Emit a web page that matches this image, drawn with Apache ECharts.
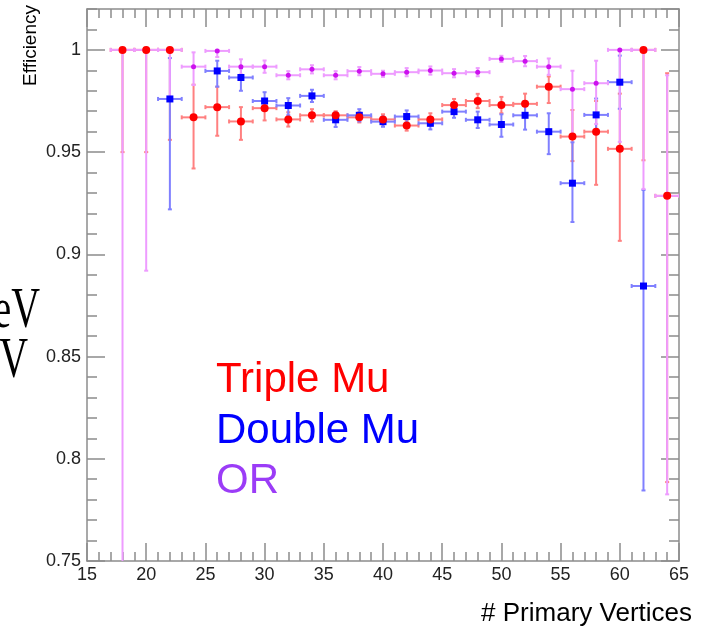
<!DOCTYPE html>
<html>
<head>
<meta charset="utf-8">
<script src="https://cdn.jsdelivr.net/npm/echarts@6/dist/echarts.min.js"></script>
<style>
  html, body { margin: 0; padding: 0; background: #fff; }
  #chart { width: 704px; height: 628px; }
</style>
</head>
<body>
<div id="chart"></div>
<script>
// Number of primary vertices (bin centres); each bin is 2 wide
const vertices = [18, 20, 22, 24, 26, 28, 30, 32, 34, 36, 38, 40, 42, 44, 46, 48, 50, 52, 54, 56, 58, 60, 62, 64];
const binHalfWidth = 1;

// Triple Mu efficiency and asymmetric errors
const tripleEff  = [1.000, 1.000, 1.000, 0.967, 0.972, 0.965, 0.9715, 0.966, 0.968, 0.968, 0.967, 0.966, 0.963, 0.966, 0.973, 0.975, 0.973, 0.9736, 0.982, 0.9576, 0.960, 0.9516, 1.000, 0.9286];
const tripleUp   = [0, 0, 0, 0.016, 0.010, 0.007, 0.004, 0.0035, 0.003, 0.002, 0.0025, 0.0025, 0.0025, 0.003, 0.003, 0.0035, 0.004, 0.005, 0.005, 0.013, 0.015, 0.027, 0, 0.06];
const tripleDown = [0.05, 0.05, 0.044, 0.025, 0.014, 0.009, 0.006, 0.0035, 0.003, 0.003, 0.0025, 0.0025, 0.0025, 0.003, 0.003, 0.0035, 0.004, 0.005, 0.008, 0.012, 0.026, 0.045, 0.054, 0.14];

// Double Mu efficiency and asymmetric errors
const doubleEff  = [null, null, 0.976, null, 0.9897, 0.9865, 0.975, 0.9728, 0.9775, 0.9658, 0.968, 0.9649, 0.9674, 0.9641, 0.9698, 0.9658, 0.9635, 0.968, 0.960, 0.9348, 0.9682, 0.9842, 0.8845, null];
const doubleUp   = [0, 0, 0.020, 0, 0.005, 0.0045, 0.0043, 0.0036, 0.003, 0.0035, 0.003, 0.0025, 0.003, 0.003, 0.003, 0.004, 0.005, 0.005, 0.009, 0.020, 0.008, 0.013, 0.047, 0];
const doubleDown = [0, 0, 0.054, 0, 0.0077, 0.0065, 0.0044, 0.0048, 0.003, 0.0035, 0.003, 0.0025, 0.003, 0.003, 0.003, 0.004, 0.006, 0.007, 0.011, 0.019, 0.008, 0.013, 0.10, 0];

// OR efficiency and asymmetric errors
const orEff  = [1.000, 1.000, 1.000, 0.9918, 0.9995, 0.9918, 0.9918, 0.9876, 0.9905, 0.9876, 0.9896, 0.9883, 0.9891, 0.9899, 0.9886, 0.9891, 0.9956, 0.9945, 0.9918, 0.9808, 0.9837, 1.000, 1.000, 0.9286];
const orUp   = [0, 0, 0, 0.007, 0.0005, 0.0036, 0.003, 0.002, 0.002, 0.002, 0.002, 0.0015, 0.002, 0.002, 0.002, 0.002, 0.0015, 0.0025, 0.004, 0.009, 0.011, 0, 0, 0.059];
const orDown = [0.28, 0.108, 0.024, 0.009, 0.003, 0.0038, 0.003, 0.002, 0.002, 0.002, 0.002, 0.0015, 0.002, 0.002, 0.002, 0.002, 0.0015, 0.0025, 0.004, 0.022, 0.02, 0.045, 0.068, 0.146];

// Axis ranges and tick labels
const xRange = [15, 65];
const yRange = [0.75, 1.02];
const yTickLabels = ['0.75', '0.8', '0.85', '0.9', '0.95', '1'];

const chart = echarts.init(document.getElementById('chart'), null, { renderer: 'canvas' });

function rows(eff, up, down) {
  const out = [];
  vertices.forEach((x, i) => {
    if (eff[i] == null) return;
    out.push([x, eff[i], eff[i] + up[i], eff[i] - down[i]]);
  });
  return out;
}

// Error crosses: horizontal bar spans the bin, vertical bar spans the asymmetric error
function errorSeries(name, eff, up, down, color, z) {
  return {
    name: name,
    type: 'custom',
    xAxisIndex: 0,
    yAxisIndex: 0,
    clip: true,
    silent: true,
    z: z,
    encode: { x: 0, y: 1 },
    data: rows(eff, up, down),
    renderItem: function (params, api) {
      const x = api.value(0), y = api.value(1), hi = api.value(2), lo = api.value(3);
      const pHi = api.coord([x, hi]);
      const pLo = api.coord([x, lo]);
      const pL = api.coord([x - binHalfWidth, y]);
      const pR = api.coord([x + binHalfWidth, y]);
      const cap = 2;
      const style = { stroke: color, lineWidth: 2 };
      const children = [
        { type: 'line', shape: { x1: pL[0], y1: pL[1], x2: pR[0], y2: pR[1] }, style: style },
        { type: 'line', shape: { x1: pL[0], y1: pL[1] - cap, x2: pL[0], y2: pL[1] + cap }, style: style },
        { type: 'line', shape: { x1: pR[0], y1: pR[1] - cap, x2: pR[0], y2: pR[1] + cap }, style: style }
      ];
      if (hi > y) {
        children.push({ type: 'line', shape: { x1: pHi[0], y1: pHi[1], x2: pHi[0], y2: pL[1] }, style: style });
        children.push({ type: 'line', shape: { x1: pHi[0] - cap, y1: pHi[1], x2: pHi[0] + cap, y2: pHi[1] }, style: style });
      }
      if (lo < y) {
        children.push({ type: 'line', shape: { x1: pLo[0], y1: pL[1], x2: pLo[0], y2: pLo[1] }, style: style });
        children.push({ type: 'line', shape: { x1: pLo[0] - cap, y1: pLo[1], x2: pLo[0] + cap, y2: pLo[1] }, style: style });
      }
      return { type: 'group', children: children };
    }
  };
}

function markerSeries(name, eff, symbol, size, color, z) {
  const data = [];
  vertices.forEach((x, i) => { if (eff[i] != null) data.push([x, eff[i]]); });
  return {
    name: name,
    type: 'scatter',
    xAxisIndex: 0,
    yAxisIndex: 0,
    symbol: symbol,
    symbolSize: size,
    itemStyle: { color: color, opacity: 1 },
    z: z,
    silent: true,
    data: data
  };
}

const axisColor = '#8c8c8c';
const labelFont = { fontFamily: 'Liberation Sans', fontSize: 18, color: '#222' };

function xAxisDef(position, withLabels) {
  return {
    type: 'value', position: position, min: xRange[0], max: xRange[1], interval: 5,
    axisLine: { show: true, onZero: false, lineStyle: { color: axisColor, width: 1.5 } },
    axisTick: { show: true, inside: true, length: 18, lineStyle: { color: axisColor, width: 1.5 } },
    minorTick: { show: true, splitNumber: 5, length: 9, lineStyle: { color: axisColor, width: 1.5 } },
    axisLabel: withLabels ? Object.assign({ show: true, margin: 5 }, labelFont) : { show: false },
    splitLine: { show: false }, minorSplitLine: { show: false }
  };
}

function yMajorDef(position, withLabels) {
  return {
    type: 'value', position: position, min: yRange[0], max: yRange[1], interval: 0.05,
    axisLine: { show: true, onZero: false, lineStyle: { color: axisColor, width: 1.5 } },
    axisTick: { show: true, inside: true, length: 18, lineStyle: { color: axisColor, width: 1.5 } },
    axisLabel: withLabels ? Object.assign({
      show: true, margin: 6, showMaxLabel: false,
      formatter: function (v) {
        const k = Math.round((v - yRange[0]) / 0.05);
        return yTickLabels[k] !== undefined ? yTickLabels[k] : '';
      }
    }, labelFont) : { show: false },
    splitLine: { show: false }
  };
}

function yMinorDef(position) {
  return {
    type: 'value', position: position, min: yRange[0], max: yRange[1], interval: 0.01,
    axisLine: { show: false },
    axisTick: { show: true, inside: true, length: 10, lineStyle: { color: axisColor, width: 1.5 } },
    axisLabel: { show: false },
    splitLine: { show: false }
  };
}

const option = {
  backgroundColor: '#ffffff',
  animation: false,
  grid: { left: 87, right: 25, top: 9, bottom: 67, containLabel: false },
  xAxis: [xAxisDef('bottom', true), xAxisDef('top', false)],
  yAxis: [yMajorDef('left', true), yMinorDef('left'), yMajorDef('right', false), yMinorDef('right')],
  series: [
    errorSeries('Triple Mu errors', tripleEff, tripleUp, tripleDown, '#ff8080', 2),
    errorSeries('Double Mu errors', doubleEff, doubleUp, doubleDown, '#8080ff', 3),
    errorSeries('OR errors', orEff, orUp, orDown, '#ee9cff', 4),
    markerSeries('OR', orEff, 'circle', 5, '#cc11ee', 5),
    markerSeries('Double Mu', doubleEff, 'rect', 7, '#0000ff', 6),
    markerSeries('Triple Mu', tripleEff, 'circle', 8, '#ff0000', 7)
  ],
  graphic: [
    { type: 'text', x: 31, y: 5, rotation: Math.PI / 2, z: 10,
      style: { text: 'Efficiency', font: '19px "Liberation Sans"', fill: '#000', align: 'right', verticalAlign: 'middle' } },
    { type: 'text', x: 692, y: 614, z: 10,
      style: { text: '# Primary Vertices', font: '26px "Liberation Sans"', fill: '#000', align: 'right', verticalAlign: 'middle' } },
    { type: 'text', x: 216, y: 380, z: 10,
      style: { text: 'Triple Mu', font: '42px "Liberation Sans"', fill: '#ff0000', align: 'left', verticalAlign: 'middle' } },
    { type: 'text', x: 216, y: 431, z: 10,
      style: { text: 'Double Mu', font: '42px "Liberation Sans"', fill: '#0000ff', align: 'left', verticalAlign: 'middle' } },
    { type: 'text', x: 216, y: 481, z: 10,
      style: { text: 'OR', font: '42px "Liberation Sans"', fill: '#9b3cf7', align: 'left', verticalAlign: 'middle' } },
    { type: 'text', x: 40, y: 312, scaleX: 0.7, z: 10,
      style: { text: 'eV', font: '57px "Liberation Serif"', fill: '#000', align: 'right', verticalAlign: 'middle' } },
    { type: 'text', x: 28, y: 362, scaleX: 0.7, z: 10,
      style: { text: 'V', font: '57px "Liberation Serif"', fill: '#000', align: 'right', verticalAlign: 'middle' } }
  ]
};

chart.setOption(option);
</script>
</body>
</html>
